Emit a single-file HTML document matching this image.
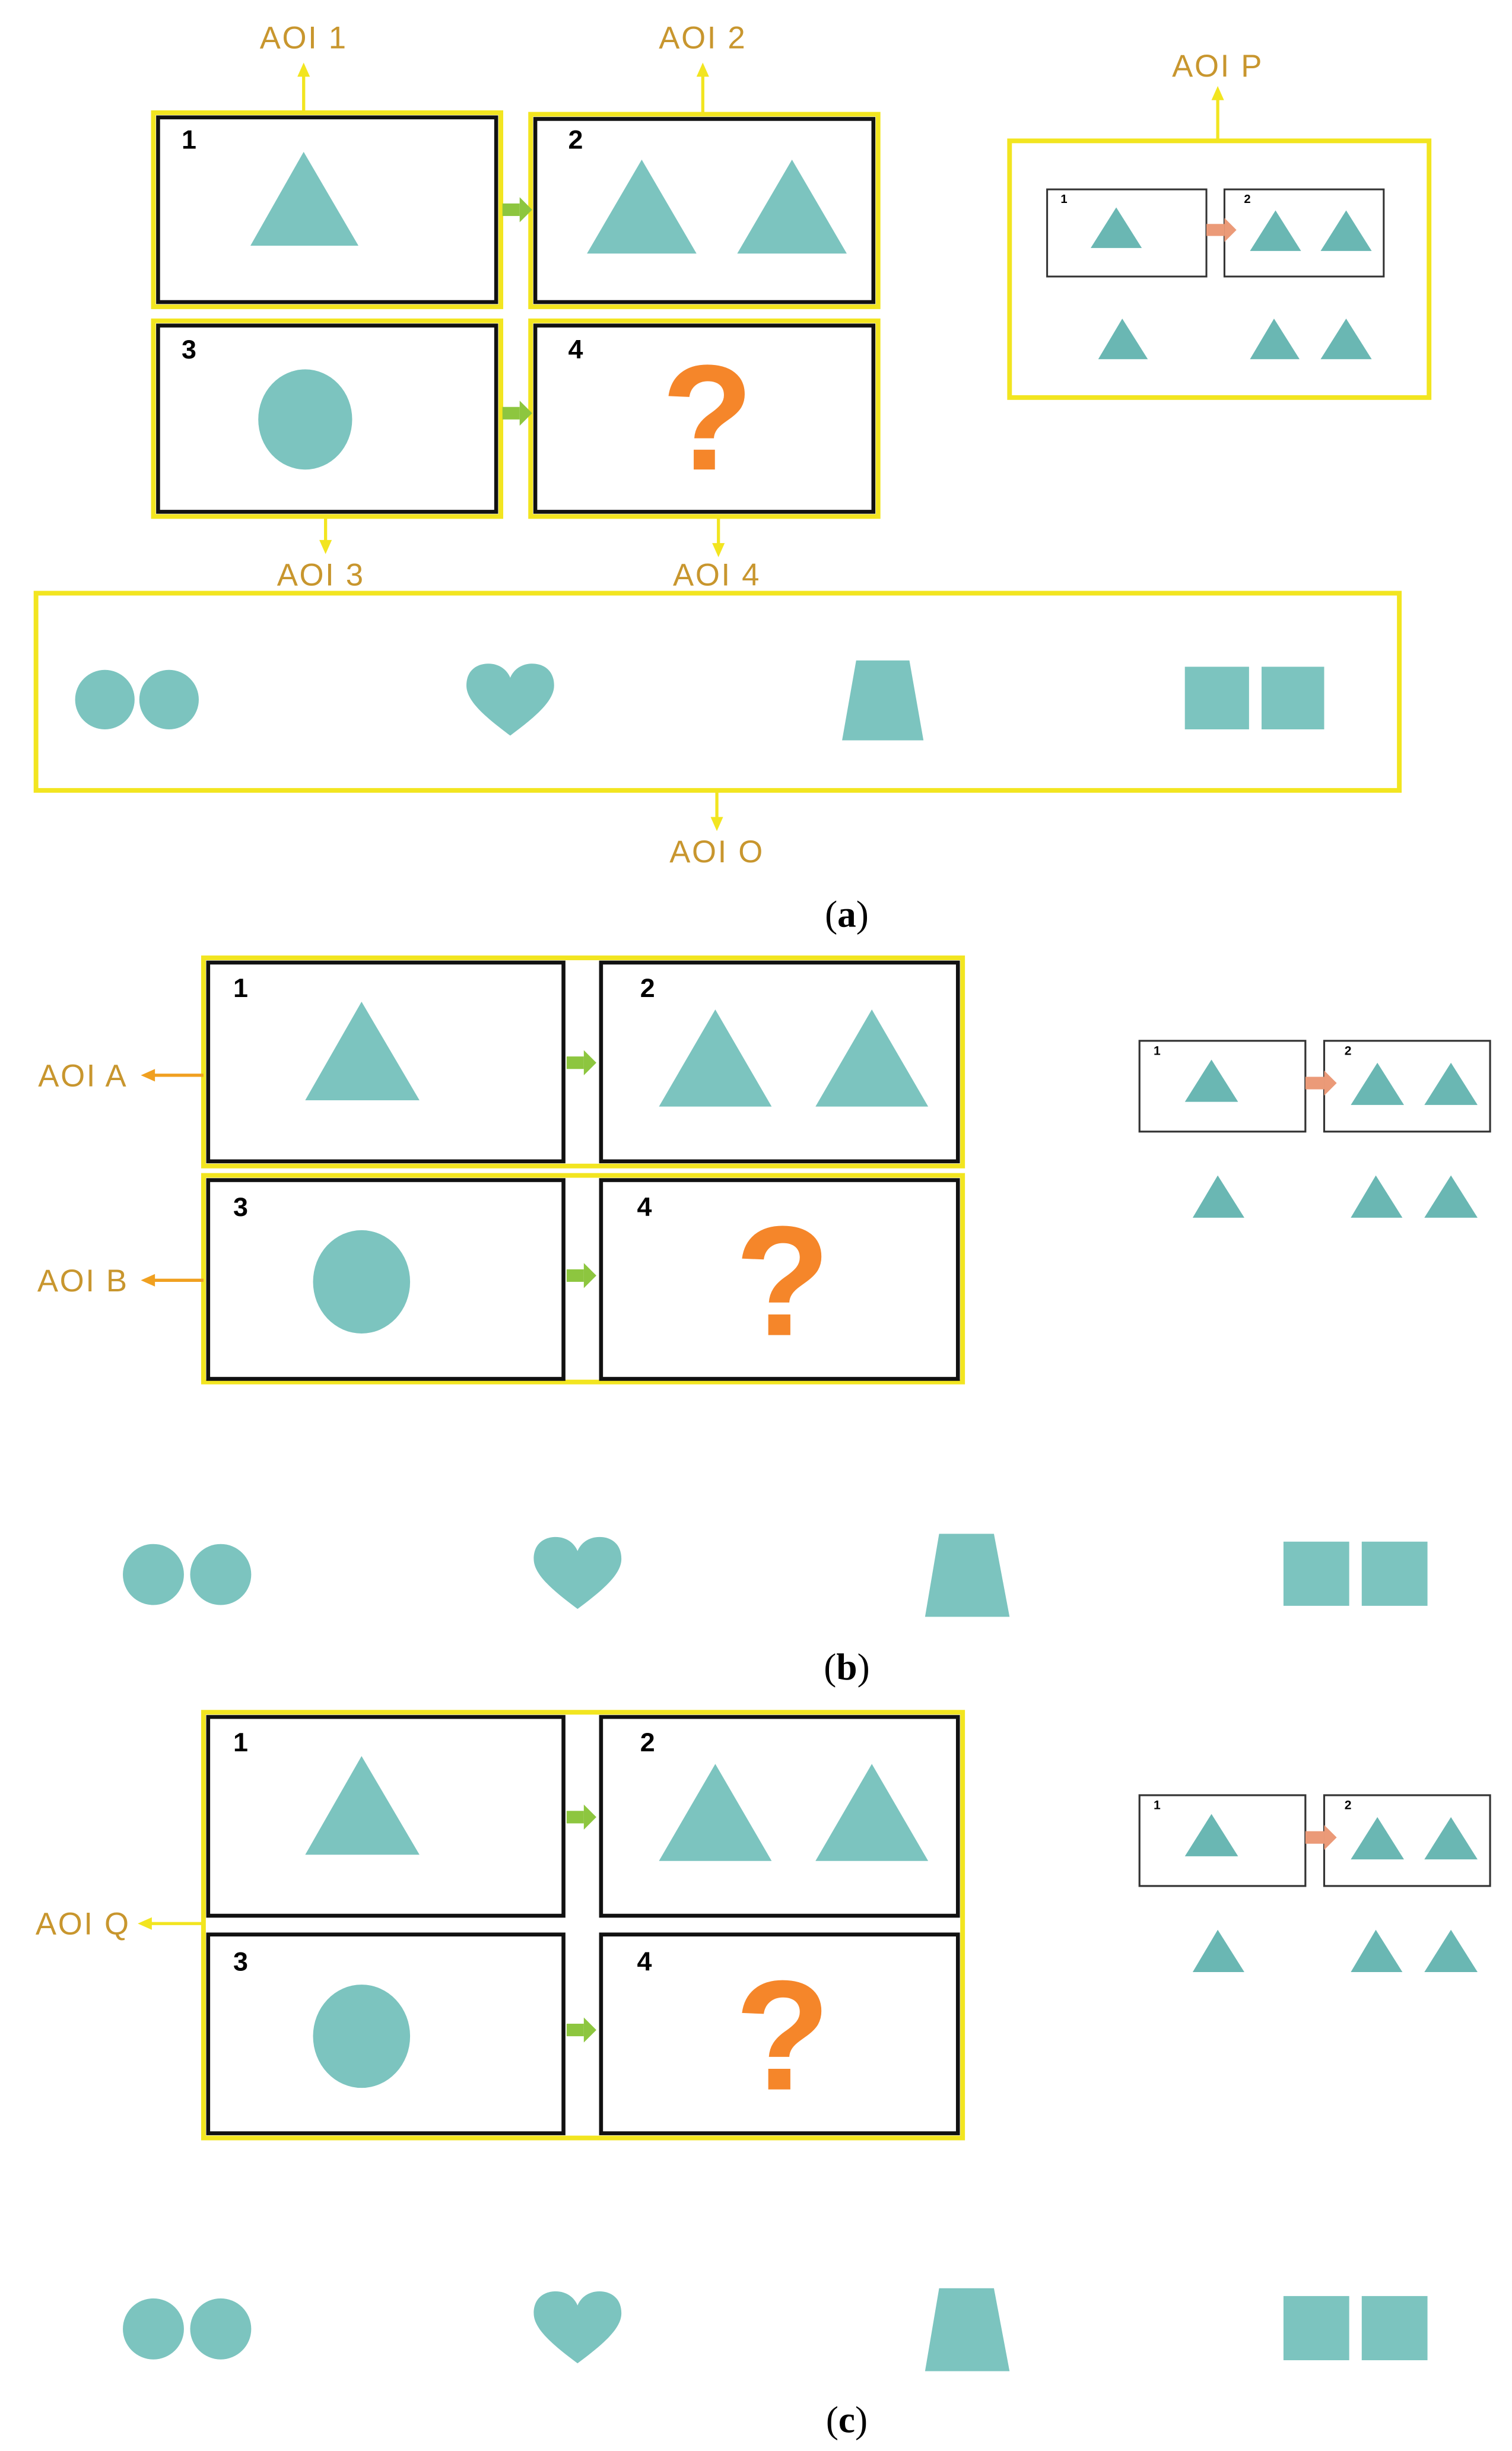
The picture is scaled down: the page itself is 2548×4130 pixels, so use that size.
<!DOCTYPE html>
<html><head><meta charset="utf-8"><style>html,body{margin:0;padding:0;background:#fff}svg{display:block}</style></head>
<body>
<svg width="2548" height="4130" viewBox="0 0 966 1566" preserveAspectRatio="none" xmlns="http://www.w3.org/2000/svg" font-family="Liberation Sans, sans-serif">
<defs>
<g id="heart"><path d="M0,22 C-16,10 -28,0 -28,-10 C-28,-20 -21,-24 -14,-24 C-7,-24 -2,-20 0,-15 C2,-20 7,-24 14,-24 C21,-24 28,-20 28,-10 C28,0 16,10 0,22 Z" fill="#7cc4bf"/></g>
<g id="garrow"><rect x="0" y="-4" width="11" height="8" fill="#8dc63f"/><polygon points="11,-8 19,0 11,8" fill="#8dc63f"/></g>
<g id="parrow"><rect x="0" y="-4" width="12" height="8" fill="#eb9a78"/><polygon points="12,-8 20,0 12,8" fill="#eb9a78"/></g>
<g id="mini">
 <rect x="0" y="0" width="106" height="58" fill="#fff" stroke="#333" stroke-width="1.2"/>
 <rect x="118" y="0" width="106" height="58" fill="#fff" stroke="#333" stroke-width="1.2"/>
 <text x="9" y="9" font-size="8" font-weight="bold">1</text>
 <text x="131" y="9" font-size="8" font-weight="bold">2</text>
 <polygon points="46,12 29,39 63,39" fill="#6ab7b3"/>
 <polygon points="152,14 135,41 169,41" fill="#6ab7b3"/>
 <polygon points="199,14 182,41 216,41" fill="#6ab7b3"/>
 <use href="#parrow" x="106" y="27"/>
 <polygon points="50,86 34,113 67,113" fill="#6ab7b3"/>
 <polygon points="151,86 135,113 168,113" fill="#6ab7b3"/>
 <polygon points="199,86 182,113 216,113" fill="#6ab7b3"/>
</g>
<g id="grid">
 <rect x="133" y="0" width="227" height="127" fill="#fff" stroke="#111" stroke-width="2.5"/>
 <rect x="384" y="0" width="228" height="127" fill="#fff" stroke="#111" stroke-width="2.5"/>
 <rect x="133" y="139" width="227" height="127" fill="#fff" stroke="#111" stroke-width="2.5"/>
 <rect x="384" y="139" width="228" height="127" fill="#fff" stroke="#111" stroke-width="2.5"/>
 <text x="149" y="22" font-size="17" font-weight="bold">1</text>
 <text x="409" y="22" font-size="17" font-weight="bold">2</text>
 <text x="149" y="162" font-size="17" font-weight="bold">3</text>
 <text x="407" y="162" font-size="17" font-weight="bold">4</text>
 <polygon points="231,25 195,88 268,88" fill="#7cc4bf"/>
 <polygon points="457,30 421,92 493,92" fill="#7cc4bf"/>
 <polygon points="557,30 521,92 593,92" fill="#7cc4bf"/>
 <ellipse cx="231" cy="204" rx="31" ry="33" fill="#7cc4bf"/>
 <text x="500" y="238" font-size="100" font-weight="bold" fill="#f5862a" text-anchor="middle">?</text>
 <use href="#garrow" x="362" y="64"/>
 <use href="#garrow" x="362" y="200"/>
</g>
<g id="bottom">
 <circle cx="98" cy="0" r="19.5" fill="#7cc4bf"/><circle cx="141" cy="0" r="19.5" fill="#7cc4bf"/>
 <use href="#heart" x="369" y="0"/>
 <polygon points="600,-26 635,-26 645,27 591,27" fill="#7cc4bf"/>
 <rect x="820" y="-21" width="42" height="41" fill="#7cc4bf"/><rect x="870" y="-21" width="42" height="41" fill="#7cc4bf"/>
</g>
</defs>

<!-- (a) -->
<g fill="#c8962e" font-size="20" text-anchor="middle" letter-spacing="1">
<text x="194" y="31">AOI 1</text><text x="449" y="31">AOI 2</text><text x="778" y="49">AOI P</text>
<text x="205" y="374">AOI 3</text><text x="458" y="374">AOI 4</text><text x="458" y="551">AOI O</text>
<text x="53" y="694">AOI A</text><text x="53" y="825">AOI B</text><text x="53" y="1236">AOI Q</text>
</g>
<g stroke="#f2e520" stroke-width="2" fill="none">
<line x1="194" y1="72" x2="194" y2="46"/><line x1="449" y1="73" x2="449" y2="46"/><line x1="778" y1="89" x2="778" y2="61"/>
<line x1="208" y1="331" x2="208" y2="348"/><line x1="459" y1="331" x2="459" y2="350"/><line x1="458" y1="505" x2="458" y2="525"/>
</g>
<g fill="#f2e520">
<polygon points="194,40 190,49 198,49"/><polygon points="449,40 445,49 453,49"/><polygon points="778,55 774,64 782,64"/>
<polygon points="208,354 204,345 212,345"/><polygon points="459,356 455,347 463,347"/><polygon points="458,531 454,522 462,522"/>
</g>
<g fill="#fff" stroke="#f2e520" stroke-width="3">
<rect x="98" y="72" width="222" height="124"/><rect x="339" y="73" width="222" height="123"/>
<rect x="98" y="205" width="222" height="125"/><rect x="339" y="205" width="222" height="125"/>
</g>
<g fill="none" stroke="#111" stroke-width="2.5">
<rect x="101" y="75" width="216" height="118"/><rect x="342" y="76" width="216" height="117"/>
<rect x="101" y="208" width="216" height="119"/><rect x="342" y="208" width="216" height="119"/>
</g>
<g font-size="17" font-weight="bold"><text x="116" y="95">1</text><text x="363" y="95">2</text><text x="116" y="229">3</text><text x="363" y="229">4</text></g>
<polygon points="194,97 160,157 229,157" fill="#7cc4bf"/>
<polygon points="410,102 375,162 445,162" fill="#7cc4bf"/>
<polygon points="506,102 471,162 541,162" fill="#7cc4bf"/>
<ellipse cx="195" cy="268" rx="30" ry="32" fill="#7cc4bf"/>
<text x="452" y="300" font-size="96" font-weight="bold" fill="#f5862a" text-anchor="middle">?</text>
<use href="#garrow" x="321" y="134"/><use href="#garrow" x="321" y="264"/>
<rect x="645" y="90" width="268" height="164" fill="none" stroke="#f2e520" stroke-width="3"/>
<use href="#mini" transform="translate(669,121) scale(0.96)"/>
<rect x="23" y="379" width="871" height="126" fill="none" stroke="#f2e520" stroke-width="3"/>
<circle cx="67" cy="447" r="19" fill="#7cc4bf"/><circle cx="108" cy="447" r="19" fill="#7cc4bf"/>
<use href="#heart" transform="translate(326,448) scale(1)"/>
<polygon points="547,422 581,422 590,473 538,473" fill="#7cc4bf"/>
<rect x="757" y="426" width="41" height="40" fill="#7cc4bf"/><rect x="806" y="426" width="40" height="40" fill="#7cc4bf"/>
<text x="541" y="592" font-family="Liberation Serif, serif" font-size="24" text-anchor="middle">(<tspan font-weight="bold">a</tspan>)</text>

<!-- (b) -->
<rect x="130" y="612" width="485" height="133" fill="#fff" stroke="#f2e520" stroke-width="3"/>
<rect x="130" y="751" width="485" height="132" fill="#fff" stroke="#f2e520" stroke-width="3"/>
<use href="#grid" y="615"/>
<g stroke="#f0a020" stroke-width="2"><line x1="130" y1="687" x2="96" y2="687"/><line x1="130" y1="818" x2="96" y2="818"/></g>
<g fill="#f0a020"><polygon points="90,687 99,683 99,691"/><polygon points="90,818 99,814 99,822"/></g>
<use href="#mini" x="728" y="665"/>
<use href="#bottom" y="1006"/>
<text x="541" y="1073" font-family="Liberation Serif, serif" font-size="24" text-anchor="middle">(<tspan font-weight="bold">b</tspan>)</text>

<!-- (c) -->
<rect x="130" y="1094" width="485" height="272" fill="#fff" stroke="#f2e520" stroke-width="3"/>
<use href="#grid" y="1097"/>
<line x1="130" y1="1229" x2="94" y2="1229" stroke="#f2e520" stroke-width="2"/>
<polygon points="88,1229 97,1225 97,1233" fill="#f2e520"/>
<use href="#mini" x="728" y="1147"/>
<use href="#bottom" y="1488"/>
<text x="541" y="1554" font-family="Liberation Serif, serif" font-size="24" text-anchor="middle">(<tspan font-weight="bold">c</tspan>)</text>
</svg>
</body></html>
